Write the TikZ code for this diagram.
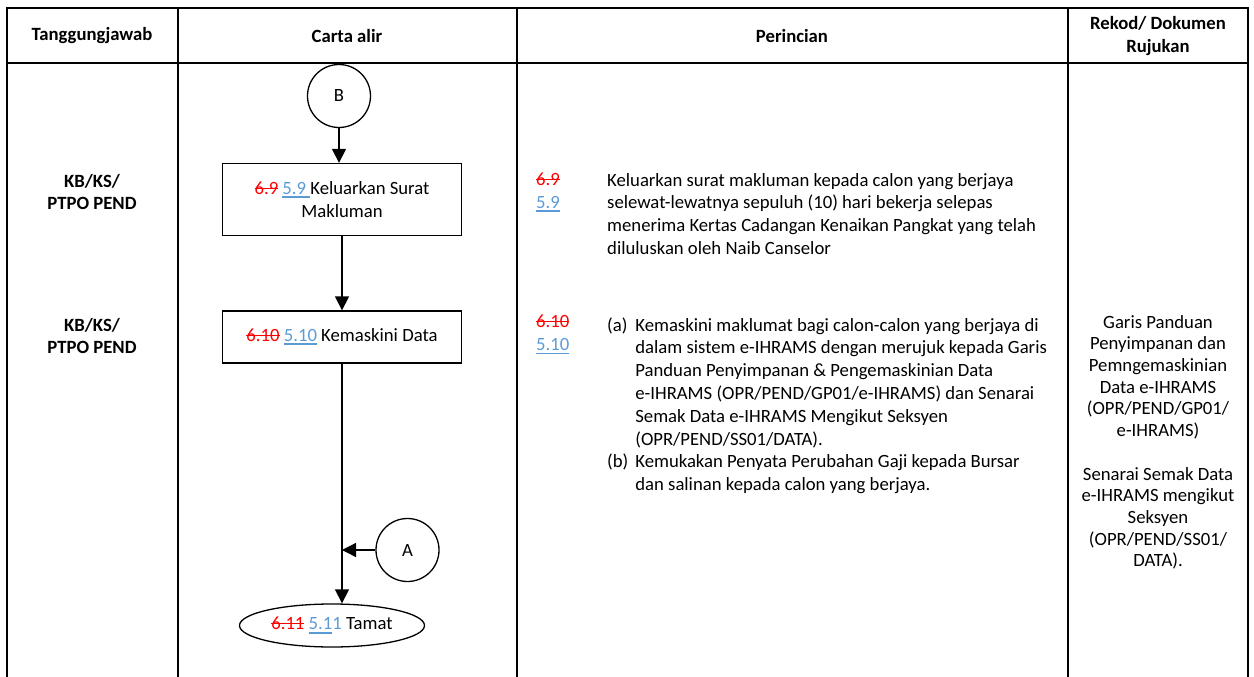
\documentclass[tikz,border=0pt]{standalone}
\usepackage{fontspec}
\setmainfont{Carlito}
\usepackage{xcolor}
\usetikzlibrary{shapes,arrows.meta,positioning,calc}

\definecolor{revblue}{RGB}{91,155,213}
% deleted and inserted step numbers
\newsavebox{\revbox}
\newcommand{\revold}[1]{\textcolor{red}{\sbox{\revbox}{#1}\rlap{\rule[0.3em]{\wd\revbox}{0.07em}}\usebox{\revbox}}}
\newcommand{\revnew}[1]{\textcolor{revblue}{\sbox{\revbox}{#1}\rlap{\rule[-0.2em]{\wd\revbox}{0.1em}}\usebox{\revbox}}}

\begin{document}
\begin{tikzpicture}[x=1pt, y=-1pt, font=\fontsize{18.7}{22.8}\selectfont]
  \tikzstyle{grid}=[line width=1.8pt]
  \tikzstyle{head}=[font=\fontsize{18.7}{22.8}\selectfont\bfseries, align=center]
  \tikzstyle{conn}=[circle, draw, line width=1.3pt, minimum size=63pt, inner sep=0pt]
  \tikzstyle{proc}=[rectangle, draw, line width=1.3pt, minimum width=239pt, align=center]
  \tikzstyle{term}=[ellipse, draw, line width=1.3pt, minimum width=185pt, minimum height=43pt, inner sep=0pt]
  \tikzstyle{flow}=[line width=1.3pt, -{Triangle[length=14pt,width=14pt]}]
  \tikzstyle{txt}=[inner sep=0pt, anchor=north west, align=left, execute at begin node=\strut]

  \useasboundingbox (0,0) rectangle (1254,677);

  % table frame
  \draw[grid] (7,677) -- (7,8) -- (1248,8) -- (1248,677);
  \draw[grid] (7,63) -- (1248,63);
  \foreach \x in {178,517,1068} \draw[grid] (\x,8) -- (\x,677);

  % column headings
  \node[head] (hTang) at (92,36) {Tanggungjawab};
  \node[head] (hCarta) at (347,36) {Carta alir};
  \node[head] (hPer) at (792,36) {Perincian};
  \node[head] (hRek) at (1158,36) {Rekod/ Dokumen\\Rujukan};

  % who is responsible
  \node[head] (r1) at (92,192) {KB/KS/\\PTPO PEND};
  \node[head] (r2) at (92,336) {KB/KS/\\PTPO PEND};

  % flow chart
  \node[conn] (conB) at (339,96) {B};
  \node[proc, minimum height=72pt] (makluman) at (342,199.5) {\revold{6.9} \revnew{5.9 }Keluarkan Surat\\Makluman};
  \node[proc, minimum height=52pt] (kemaskini) at (342,337) {\revold{6.10} \revnew{5.10} Kemaskini Data};
  \node[conn] (conA) at (407.5,550) {A};
  \node[term] (tamat) at (332,625.5) {\revold{6.11} \revnew{5.1}\textcolor{revblue}{1} Tamat};

  \coordinate (join) at (kemaskini.south |- conA);
  \draw[flow] (conB) -- (conB |- makluman.north);
  \draw[flow] (makluman) -- (kemaskini);
  \draw[flow] (kemaskini) -- (kemaskini |- tamat.north);
  \draw[flow] (conA) -- (join);

  % step details
  \node[txt] (n1no) at (536,173) {\revold{6.9}\\\revnew{5.9}};
  \node[txt] (n1) at (607,173) {Keluarkan surat makluman kepada calon yang berjaya\\
    selewat-lewatnya sepuluh (10) hari bekerja selepas\\
    menerima Kertas Cadangan Kenaikan Pangkat yang telah\\
    diluluskan oleh Naib Canselor};

  \node[txt] (n2no) at (536,315) {\revold{6.10}\\\revnew{5.10}};
  \node[txt] (n2) at (607,315) {\begin{tabular}{@{}l@{\hspace{7pt}}l@{}}
    (a) & Kemaskini maklumat bagi calon-calon yang berjaya di\\
        & dalam sistem e-IHRAMS dengan merujuk kepada Garis\\
        & Panduan Penyimpanan \& Pengemaskinian Data\\
        & e-IHRAMS (OPR/PEND/GP01/e-IHRAMS) dan Senarai\\
        & Semak Data e-IHRAMS Mengikut Seksyen\\
        & (OPR/PEND/SS01/DATA).\\
    (b) & Kemukakan Penyata Perubahan Gaji kepada Bursar\\
        & dan salinan kepada calon yang berjaya.
  \end{tabular}};

  % records
  \node[txt, anchor=north, align=center, font=\fontsize{18.7}{21.7}\selectfont] (rek) at (1158,315) {Garis Panduan\\
    Penyimpanan dan\\Pemngemaskinian\\Data e-IHRAMS\\(OPR/PEND/GP01/\\e-IHRAMS)\\[21.7pt]
    Senarai Semak Data\\e-IHRAMS mengikut\\Seksyen\\(OPR/PEND/SS01/\\DATA).};
\end{tikzpicture}
\end{document}
